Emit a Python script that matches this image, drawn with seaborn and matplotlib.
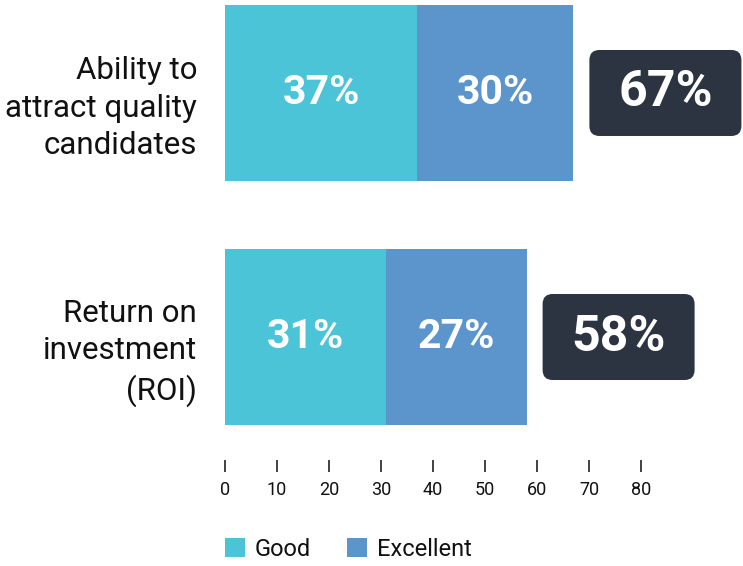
import matplotlib
matplotlib.use("Agg")
import matplotlib.pyplot as plt
import matplotlib.transforms as mtransforms
import pandas as pd
import seaborn as sns
from matplotlib.patches import FancyBboxPatch, Patch

# Survey results: share of respondents rating each outcome
categories = ["Ability to\nattract quality\ncandidates", "Return on\ninvestment\n(ROI)"]
good = [37, 31]
excellent = [30, 27]
totals = [g + e for g, e in zip(good, excellent)]
series_names = ["Good", "Excellent"]
x_ticks = [0, 10, 20, 30, 40, 50, 60, 70, 80]

GOOD_COLOR = "#4BC4D8"
EXCELLENT_COLOR = "#5B95CC"
BOX_COLOR = "#2C3441"
TEXT_COLOR = "#111111"

sns.set_theme(style="white")
plt.rcParams["font.family"] = ["Roboto", "DejaVu Sans"]

W, H = 743, 566
fig = plt.figure(figsize=(W / 100, H / 100), dpi=100)
ax = fig.add_axes([225 / W, 1 - 460 / H, 516 / W, 460 / H])

df = pd.DataFrame({"category": categories, "good": good, "total": totals})

# Stacked bars: the full total in the "Excellent" colour, "Good" drawn on top
sns.barplot(data=df, x="total", y="category", orient="h", color=EXCELLENT_COLOR,
            saturation=1, width=0.72, ax=ax)
sns.barplot(data=df, x="good", y="category", orient="h", color=GOOD_COLOR,
            saturation=1, width=0.72, ax=ax)
for p in ax.patches:
    p.set_linewidth(0)

px_per_x = 5.2
ax.set_xlim(0, 516 / px_per_x)
ax.set_ylim(1.504, -0.381)
px_per_y = 460 / (1.504 + 0.381)

for side in ax.spines.values():
    side.set_visible(False)

ax.set_xlabel("")
ax.set_ylabel("")
ax.set_xticks(x_ticks)
ax.set_xticklabels([str(t) for t in x_ticks])
ax.tick_params(axis="x", bottom=True, direction="out", length=8.6, width=1.2,
               color="#222222", labelsize=13, pad=6.5, labelcolor=TEXT_COLOR)
ax.tick_params(axis="y", left=False, length=0, labelsize=22.5, pad=20,
               labelcolor=TEXT_COLOR)
shift_down = mtransforms.ScaledTranslation(0, -8 / 100, fig.dpi_scale_trans)
for lab in ax.get_yticklabels():
    lab.set_linespacing(1.35)
    lab.set_horizontalalignment("right")
    lab.set_transform(lab.get_transform() + shift_down)

# Segment value labels
for i, (g, e) in enumerate(zip(good, excellent)):
    ax.text(g / 2, i, f"{g}%", ha="center", va="center", fontsize=29.5,
            fontweight="bold", color="white")
    ax.text(g + e / 2, i, f"{e}%", ha="center", va="center", fontsize=29.5,
            fontweight="bold", color="white")

# Total callouts in rounded dark boxes
box_w, box_h, gap, radius = 152, 86, 16, 10
for i, t in enumerate(totals):
    x0 = t + gap / px_per_x
    w = box_w / px_per_x
    h = box_h / px_per_y
    box = FancyBboxPatch((x0, i - h / 2), w, h,
                         boxstyle=f"round,pad=0,rounding_size={radius / px_per_x}",
                         mutation_aspect=px_per_x / px_per_y,
                         facecolor=BOX_COLOR, edgecolor="none", clip_on=False)
    ax.add_patch(box)
    ax.text(x0 + w / 2, i, f"{t}%", ha="center", va="center", fontsize=36,
            fontweight="bold", color="white", clip_on=False)

handles = [Patch(facecolor=c, edgecolor="none", label=n)
           for c, n in zip([GOOD_COLOR, EXCELLENT_COLOR], series_names)]
fig.legend(handles=handles, loc="center left", bbox_to_anchor=(225 / W, 1 - 549 / H),
           ncol=2, frameon=False, fontsize=17, handlelength=0.85, handleheight=0.85,
           handletextpad=0.42, columnspacing=1.5, borderpad=0, borderaxespad=0,
           labelcolor=TEXT_COLOR)

fig.savefig("out.png", dpi=100)
